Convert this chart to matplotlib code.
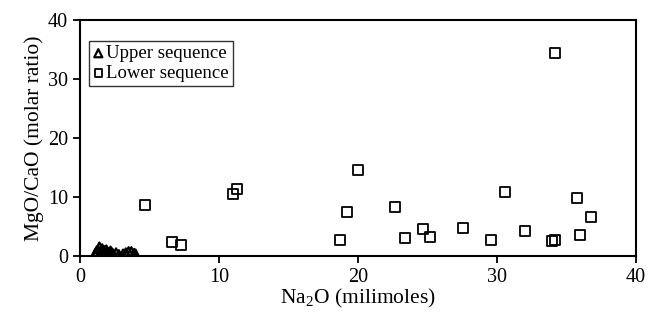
import matplotlib
matplotlib.use("Agg")
import matplotlib.pyplot as plt

plt.rcParams['font.family'] = ['Liberation Serif', 'DejaVu Serif']
plt.rcParams['mathtext.fontset'] = 'custom'
plt.rcParams['mathtext.rm'] = 'Liberation Serif'

upper_x = [1.1, 1.2, 1.3, 1.4, 1.5, 1.6, 1.7, 1.8, 1.9, 2.0, 2.1, 2.2, 2.3, 2.4, 2.6, 2.8, 3.1, 3.3, 3.5, 3.7, 3.9, 4.0]
upper_y = [0.3, 0.7, 0.9, 1.4, 0.6, 1.1, 0.4, 0.8, 0.9, 0.5, 0.3, 0.7, 0.4, 0.2, 0.4, 0.1, 0.2, 0.4, 0.6, 0.6, 0.3, 0.2]

lower_x = [4.7, 6.6, 7.3, 11.0, 11.3, 18.7, 19.2, 20.0, 22.7, 23.4, 24.7, 25.2, 27.6,
           29.6, 30.6, 32.0, 34.0, 34.2, 34.2, 35.8, 36.0, 36.8]
lower_y = [8.6, 2.4, 1.9, 10.6, 11.4, 2.8, 7.5, 14.6, 8.3, 3.0, 4.6, 3.2, 4.8,
           2.7, 10.9, 4.3, 2.5, 2.7, 34.4, 9.8, 3.5, 6.7]

x_ticks = [0, 10, 20, 30, 40]
y_ticks = [0, 10, 20, 30, 40]

fig = plt.figure(figsize=(6.5, 3.23), dpi=100)
ax = fig.add_axes([0.123, 0.207, 0.855, 0.731])

ax.scatter(upper_x, upper_y, marker='^', s=60, facecolors='none', edgecolors='black',
           linewidths=1.6, label='Upper sequence', zorder=3)
ax.scatter(lower_x, lower_y, marker='s', s=52, facecolors='none', edgecolors='black',
           linewidths=1.3, label='Lower sequence', zorder=3)

ax.set_xlim(0, 40)
ax.set_ylim(0, 40)
ax.set_xticks(x_ticks)
ax.set_yticks(y_ticks)
ax.tick_params(direction='out', length=5, width=1.3, labelsize=14.5, colors='black')
for s in ax.spines.values():
    s.set_linewidth(1.5)
    s.set_color('black')

ax.set_xlabel(r'Na$_2$O (milimoles)', fontsize=15.5, labelpad=0)
ax.set_ylabel('MgO/CaO (molar ratio)', fontsize=15.5, labelpad=3)

leg = ax.legend(loc='upper left', bbox_to_anchor=(0.017, 0.91), fontsize=13.5,
                frameon=True, fancybox=False, edgecolor='black', handlelength=0.55,
                handletextpad=0.15, borderpad=0.2, labelspacing=0.15, borderaxespad=0,
                markerscale=0.75)
leg.get_frame().set_linewidth(1.0)

fig.savefig('out.png', dpi=100)
